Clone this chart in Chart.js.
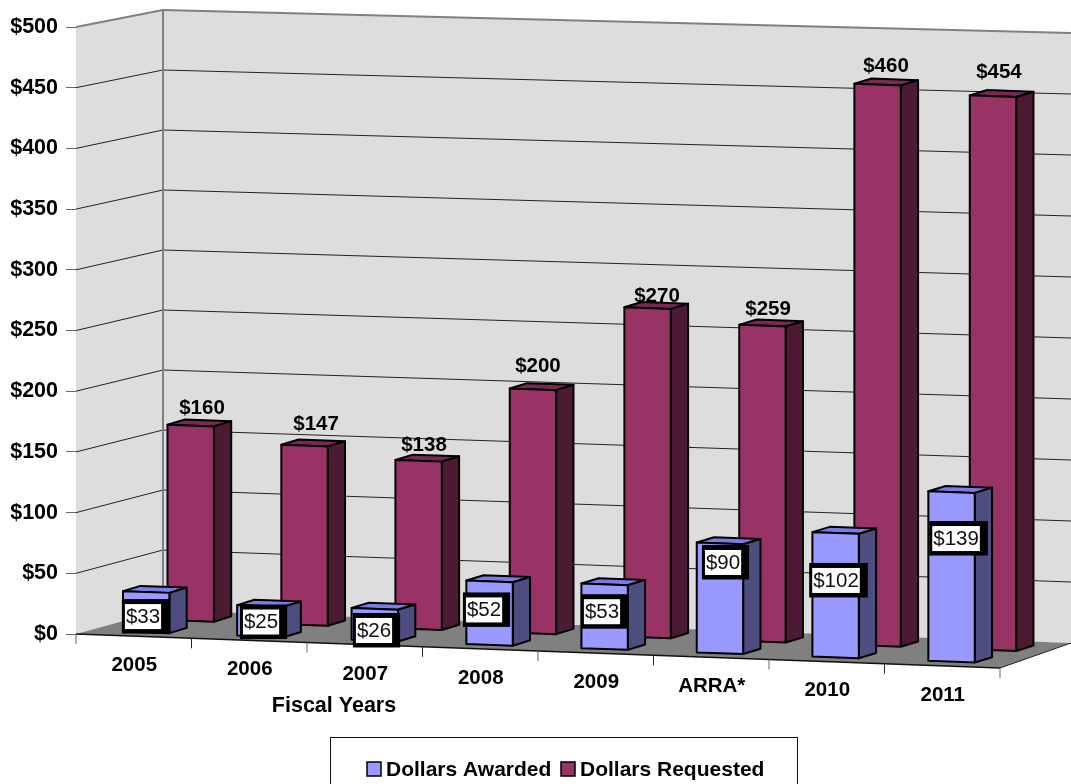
<!DOCTYPE html>
<html>
<head>
<meta charset="utf-8">
<style>html,body{margin:0;padding:0;background:#fff}canvas{display:block}</style>
<script src="https://cdn.jsdelivr.net/npm/chart.js@4"></script>
</head>
<body>
<canvas id="c" width="1071" height="784"></canvas>
<script>
const categories = ["2005","2006","2007","2008","2009","ARRA*","2010","2011"];
const dollarsAwarded = [33,25,26,52,53,90,102,139];
const dollarsRequested = [160,147,138,200,270,259,460,454];
const xAxisTitle = "Fiscal Years";

// layout offsets of the value labels relative to each bar's top-left corner
const awardedLabelOffsets = [[20,25.4],[23.9,16.9],[22.4,22.4],[17.7,29.4],[20.6,28.2],[26.3,19.9],[23.6,48.3],[27.7,47.3]];
const requestedLabelOffsets = [[34.5,-16.8],[34.7,-20.8],[28.6,-14.8],[28.2,-22.4],[32.6,-11.1],[28.8,-15.7],[31.6,-17.6],[29.2,-23.1]];

const FONT = '"Liberation Sans", Arial, sans-serif';
const STYLE = [
  {front:'#9999FF', top:'#7C7CE8', side:'#4D4D80', x0:123,   a:114,   b:0.15, y0:644, yx:467},
  {front:'#993366', top:'#7A2952', side:'#4D1A33', x0:167.5, a:113.7, b:0.13, y0:620, yx:168}
];
const SLOPE = 0.0365, BAR_W = 46.4, DX = 17.3, DY = -5.3, HK = 1.005;
const wall = {lx:163, rx:1071, lt:10, lb:610, rt:33, rb:643};

function poly(ctx, pts, fill, stroke, lw){
  ctx.beginPath();
  pts.forEach((p,i)=> i?ctx.lineTo(p[0],p[1]):ctx.moveTo(p[0],p[1]));
  ctx.closePath();
  if(fill){ctx.fillStyle=fill;ctx.fill();}
  if(stroke){ctx.strokeStyle=stroke;ctx.lineWidth=lw||1;ctx.stroke();}
}
function seg(ctx,x1,y1,x2,y2,color,lw){
  ctx.beginPath();ctx.moveTo(x1,y1);ctx.lineTo(x2,y2);
  ctx.strokeStyle=color;ctx.lineWidth=lw;ctx.stroke();
}
function barGeom(chart, dsIndex, i){
  const el = chart.getDatasetMeta(dsIndex).data[i];
  const st = STYLE[dsIndex];
  const xs = chart.scales.x, ys = chart.scales.y;
  const u = (xs.getPixelForValue(i) - xs.getPixelForValue(0)) / (xs.getPixelForValue(1) - xs.getPixelForValue(0));
  const left = st.x0 + st.a*u + st.b*u*u;
  const base = st.y0 + SLOPE*(left - st.yx);
  const top = base - (ys.bottom - el.y)*HK;
  return {left, base, top};
}
const scene = {
  id:'scene',
  beforeDatasetsDraw(chart){
    const ctx = chart.ctx, ys = chart.scales.y, xs = chart.scales.x;
    const L = xs.left, T = ys.top, B = ys.bottom, R = xs.right;
    ctx.save();
    // walls
    poly(ctx,[[L,T],[wall.lx,wall.lt],[wall.lx,wall.lb],[L,B]],'#DDDDDD');
    poly(ctx,[[wall.lx,wall.lt],[wall.rx,wall.rt],[wall.rx,wall.rb],[wall.lx,wall.lb]],'#DDDDDD');
    // floor
    const frontY = B + 34;
    poly(ctx,[[L,B],[wall.lx,wall.lb],[wall.rx,wall.rb],[R,frontY]],'#808080');
    // gridlines
    ys.ticks.forEach(t=>{
      if(t.value===0) return;
      const y = ys.getPixelForValue(t.value);
      const f = (y-T)/(B-T);
      const yl = wall.lt + f*(wall.lb-wall.lt), yr = wall.rt + f*(wall.rb-wall.rt);
      const top = t.value===500;
      const col = top?'#808080':'#222222', lw = top?2:1;
      seg(ctx,L,y,wall.lx,yl,col,lw);
      seg(ctx,wall.lx,yl,wall.rx,yr,col,lw);
    });
    seg(ctx,wall.lx,wall.lt,wall.lx,wall.lb,'#808080',2);
    // front and right edges of floor, x ticks
    seg(ctx,L,B,R,frontY,'#111111',1.5);
    seg(ctx,R,frontY,wall.rx,wall.rb,'#222222',1);
    const step = (xs.getPixelForValue(1)-xs.getPixelForValue(0));
    for(let i=0;i<=categories.length;i++){
      const x = L + i*step;
      const y = B + (x-L)*(frontY-B)/(R-L);
      seg(ctx,x,y,x,y+10,i%2?'#222222':'#666666',1);
    }
    // category labels and axis title
    ctx.font = 'bold 20.5px '+FONT;
    ctx.fillStyle='#000';ctx.textAlign='center';ctx.textBaseline='middle';
    categories.forEach((c,i)=>{
      ctx.fillText(c, xs.getPixelForValue(i)+0.5, 665.5+4.2*i);
    });
    ctx.font = 'bold 21.5px '+FONT;
    ctx.fillText(xAxisTitle,334,706);
    ctx.restore();
  },
  beforeDatasetDraw(chart,args){
    const ctx = chart.ctx, st = STYLE[args.index];
    ctx.save();
    ctx.lineJoin='round';
    categories.forEach((c,i)=>{
      const {left,base,top} = barGeom(chart,args.index,i);
      const r = left+BAR_W, s = BAR_W*SLOPE;
      poly(ctx,[[left,top],[left+DX,top+DY],[r+DX,top+s+DY],[r,top+s]],st.top,'#000',2);
      poly(ctx,[[r,top+s],[r+DX,top+s+DY],[r+DX,base+s+DY],[r,base+s]],st.side,'#000',2);
      poly(ctx,[[left,top],[r,top+s],[r,base+s],[left,base]],st.front,'#000',2);
    });
    ctx.restore();
    return false;
  },
  afterDatasetsDraw(chart){
    const ctx = chart.ctx;
    ctx.save();
    ctx.textAlign='center';ctx.textBaseline='middle';
    // requested labels
    ctx.font='bold 20.5px '+FONT;ctx.fillStyle='#000';
    dollarsRequested.forEach((v,i)=>{
      const g = barGeom(chart,1,i), o = requestedLabelOffsets[i];
      ctx.fillText('$'+v, g.left+o[0], g.top+o[1]);
    });
    // awarded labels
    ctx.font='20.5px '+FONT;
    dollarsAwarded.forEach((v,i)=>{
      const g = barGeom(chart,0,i), o = awardedLabelOffsets[i];
      const cx = g.left+o[0], cy = g.top+o[1], txt='$'+v;
      const w = ctx.measureText(txt).width+2, h=25;
      ctx.fillStyle='#000';
      ctx.fillRect(cx-w/2-3, cy-h/2-5, w+3+8, h+9.5);
      ctx.fillStyle='#fff';
      ctx.fillRect(cx-w/2, cy-h/2, w, h);
      ctx.fillStyle='#111';
      ctx.fillText(txt,cx,cy+0.5);
    });
    // legend
    ctx.strokeStyle='#111';ctx.lineWidth=1;
    ctx.strokeRect(330.5,737.5,467,60);
    ctx.font='bold 21px '+FONT;ctx.textAlign='left';ctx.fillStyle='#000';
    const lx=[[367,386],[561,580]];
    chart.data.datasets.forEach((d,i)=>{
      ctx.fillStyle=STYLE[i].front;
      ctx.fillRect(lx[i][0],762,14,14);
      ctx.strokeStyle='#000';ctx.lineWidth=1.5;
      ctx.strokeRect(lx[i][0],762,14,14);
      ctx.fillStyle='#000';
      ctx.fillText(d.label,lx[i][1],770);
    });
    ctx.restore();
  }
};
new Chart(document.getElementById('c'),{
  type:'bar',
  data:{labels:categories,datasets:[
    {label:'Dollars Awarded',data:dollarsAwarded,backgroundColor:'#9999FF'},
    {label:'Dollars Requested',data:dollarsRequested,backgroundColor:'#993366'}
  ]},
  plugins:[scene],
  options:{
    responsive:false,animation:false,
    categoryPercentage:0.745,barPercentage:1,
    layout:{padding:{top:27,right:71,left:0,bottom:0}},
    plugins:{legend:{display:false},tooltip:{enabled:false},title:{display:false}},
    scales:{
      x:{grid:{display:false},border:{display:false},ticks:{display:false},
         afterFit(s){s.height=150;}},
      y:{min:0,max:500,
         ticks:{stepSize:50,padding:8,color:'#000',font:{family:FONT,size:21.5,weight:'bold'},callback:v=>'$'+v},
         grid:{drawOnChartArea:false,drawTicks:true,tickLength:10,tickColor:'#666666'},
         border:{display:true,color:'#000'},
         afterFit(s){s.width=76;}}
    }
  }
});
</script>
</body>
</html>
